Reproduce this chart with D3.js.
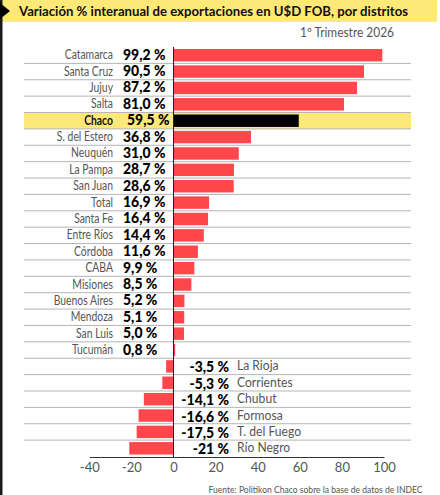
<!DOCTYPE html>
<html>
<head>
<meta charset="utf-8">
<script src="https://cdn.jsdelivr.net/npm/d3@7"></script>
<style>
  body { margin: 0; background: #fff; }
  text { font-family: Lato, sans-serif; }
</style>
</head>
<body>
<div class="canvas"></div>
<script>
const provincias = ['Catamarca', 'Santa Cruz', 'Jujuy', 'Salta', 'Chaco', 'S. del Estero', 'Neuquén', 'La Pampa', 'San Juan', 'Total', 'Santa Fe', 'Entre Ríos', 'Córdoba', 'CABA', 'Misiones', 'Buenos Aires', 'Mendoza', 'San Luis', 'Tucumán', 'La Rioja', 'Corrientes', 'Chubut', 'Formosa', 'T. del Fuego', 'Río Negro']
const valores = [99.2, 90.5, 87.2, 81.0, 59.5, 36.8, 31.0, 28.7, 28.6, 16.9, 16.4, 14.4, 11.6, 9.9, 8.5, 5.2, 5.1, 5.0, 0.8, -3.5, -5.3, -14.1, -16.6, -17.5, -21]
const etiquetas = ['99,2 %', '90,5 %', '87,2 %', '81,0 %', '59,5 %', '36,8 %', '31,0 %', '28,7 %', '28,6 %', '16,9 %', '16,4 %', '14,4 %', '11,6 %', '9,9 %', '8,5 %', '5,2 %', '5,1 %', '5,0 %', '0,8 %', '-3,5 %', '-5,3 %', '-14,1 %', '-16,6 %', '-17,5 %', '-21 %']
const ticks = [-40, -20, 0, 20, 40, 60, 80, 100]
const destacada = 'Chaco'

const svg = d3.select('.canvas')
    .append('svg')
    .attr('width', 440)
    .attr('height', 495)
    .style('display', 'block')

const x = d3.scaleLinear().domain([-40, 100]).range([89.3, 384])
const y = d3.scaleBand().domain(provincias).range([47, 456.5]).paddingInner(0.24).paddingOuter(0.12)
const step = y.step()
const rowTop = name => y(name) - (step - y.bandwidth()) / 2

//the source font is condensed, so squeeze the text sideways
const squeeze = (sel, factor) => sel.each(function () {
    const len = this.getComputedTextLength()
    d3.select(this).attr('textLength', len * factor).attr('lengthAdjust', 'spacingAndGlyphs')
})

//cabecera
svg.append('rect').attr('x', 0).attr('y', 0).attr('width', 437).attr('height', 22).attr('fill', '#fde878')
svg.append('rect').attr('x', 0).attr('y', 0).attr('width', 2.5).attr('height', 495).attr('fill', '#1a1a1a')
svg.append('path').attr('d', 'M0,3 L10,11 L0,19 Z').attr('fill', '#000')
svg.append('text').attr('x', 19).attr('y', 16).attr('font-size', 14).attr('font-weight', 700)
    .attr('textLength', 389).attr('lengthAdjust', 'spacingAndGlyphs').attr('fill', '#111')
    .text('Variación % interanual de exportaciones en U$D FOB, por distritos')
svg.append('text').attr('x', 300).attr('y', 36.5).attr('font-size', 13).attr('fill', '#555')
    .attr('textLength', 94).attr('lengthAdjust', 'spacingAndGlyphs')
    .text('1º Trimestre 2026')

//fila destacada
svg.append('rect').attr('x', 24).attr('y', rowTop(destacada)).attr('width', 387).attr('height', step).attr('fill', '#fde878')

//separadores
svg.selectAll('line.sep').data(provincias.slice(0, -1)).enter().append('line')
    .attr('class', 'sep')
    .attr('x1', 24).attr('x2', 411)
    .attr('y1', d => rowTop(d) + step).attr('y2', d => rowTop(d) + step)
    .attr('stroke', '#b5b5b5').attr('stroke-width', 1)

//barras
svg.selectAll('rect.bar').data(provincias).enter().append('rect')
    .attr('class', 'bar')
    .attr('x', (d, i) => x(Math.min(0, valores[i])))
    .attr('y', d => y(d))
    .attr('width', (d, i) => Math.abs(x(valores[i]) - x(0)))
    .attr('height', y.bandwidth())
    .attr('fill', d => d === destacada ? '#000' : '#ff474c')

//etiquetas de texto
provincias.forEach((name, i) => {
    const neg = valores[i] < 0
    const mid = y(name) + y.bandwidth() / 2
    svg.append('text')
        .attr('x', neg ? 237 : 113).attr('y', mid + 4)
        .attr('text-anchor', neg ? 'start' : 'end')
        .attr('font-size', 12.5)
        .attr('font-weight', name === destacada ? 700 : 400)
        .attr('fill', name === destacada ? '#111' : '#555')
        .text(name)
        .call(squeeze, neg ? 0.97 : 0.83)
    svg.append('text')
        .attr('x', neg ? 229 : name === destacada ? 127 : 123).attr('y', mid + (neg ? 6 : 4.5))
        .attr('text-anchor', neg ? 'end' : 'start')
        .attr('font-size', 15).attr('font-weight', 900).attr('fill', '#000')
        .text(etiquetas[i])
        .call(squeeze, 0.93)
})

//eje vertical en cero
svg.append('line').attr('x1', x(0)).attr('x2', x(0)).attr('y1', 47).attr('y2', 457)
    .attr('stroke', '#222').attr('stroke-width', 1)

//eje
const axis = svg.append('g')
    .attr('transform', 'translate(0,457)')
    .call(d3.axisBottom(x).tickValues(ticks).tickSize(0).tickPadding(6).tickFormat(d => String(d)))
axis.select('.domain').attr('stroke', '#333').attr('stroke-width', 1.2)
axis.selectAll('text').attr('font-size', 13).attr('fill', '#555').style('font-family', 'Lato, sans-serif')

svg.append('text').attr('x', 208.5).attr('y', 493).attr('font-size', 9)
    .attr('textLength', 214).attr('lengthAdjust', 'spacingAndGlyphs')
    .attr('fill', '#555').text('Fuente: Politikon Chaco sobre la base de datos de INDEC')
</script>
</body>
</html>
